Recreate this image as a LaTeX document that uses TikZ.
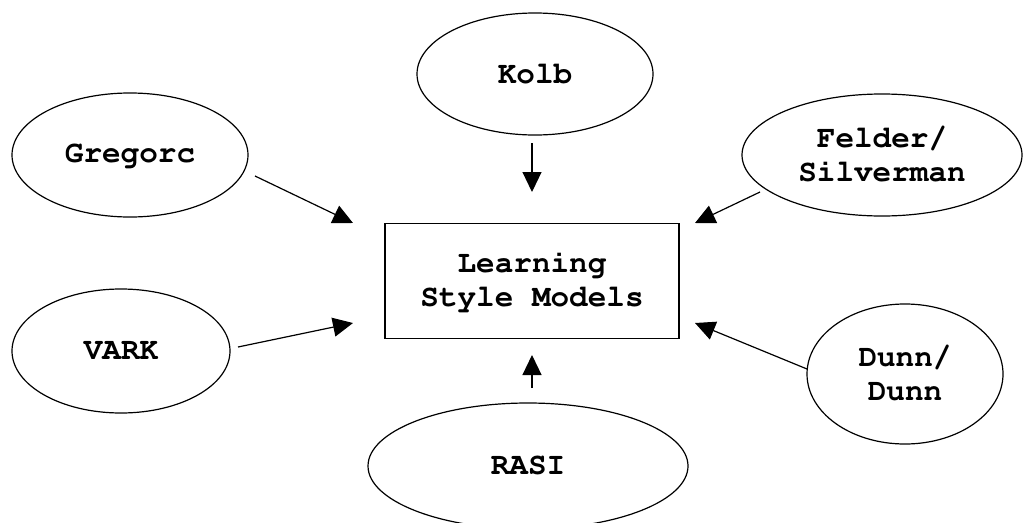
\documentclass[tikz,border=0pt]{standalone}
\usepackage[T1]{fontenc}
\usepackage{courier}
\usetikzlibrary{shapes.geometric,arrows.meta}
\tikzset{
  model/.style={draw, ellipse, line width=1.2pt, inner sep=0pt, align=center,
    font=\ttfamily\bfseries\fontsize{31}{34}\selectfont},
  centerbox/.style={draw, rectangle, line width=1.2pt, inner sep=0pt, align=center,
    minimum width=294pt, minimum height=115pt,
    font=\ttfamily\bfseries\fontsize{31}{34}\selectfont},
  feed/.style={line width=1.2pt, -{Triangle[length=20pt,width=19pt]}}
}
\begin{document}
\begin{tikzpicture}[x=1pt,y=-1pt]
\useasboundingbox (0,0) rectangle (1024,522);
\node[centerbox] (lsm) at (532,281) {Learning\\Style Models};
\node[model, minimum width=236pt, minimum height=122pt] (kolb) at (535,74) {Kolb};
\node[model, minimum width=236pt, minimum height=124pt] (greg) at (130,155) {Gregorc};
\node[model, minimum width=280pt, minimum height=122pt] (fel) at (882,155) {Felder/\\Silverman};
\node[model, minimum width=218pt, minimum height=124pt] (vark) at (121,351) {VARK};
\node[model, minimum width=196pt, minimum height=140pt] (dunn) at (905,374) {Dunn/\\Dunn};
\node[model, minimum width=320pt, minimum height=126pt] (rasi) at (528,466) {RASI};
\coordinate (gregS) at (255,176);
\coordinate (gregT) at (353,223);
\coordinate (kolbS) at (532,143);
\coordinate (kolbT) at (532,192);
\coordinate (felS) at (760,192);
\coordinate (felT) at (695,223);
\coordinate (varkS) at (238,347);
\coordinate (varkT) at (353,323);
\coordinate (rasiS) at (532,388);
\coordinate (rasiT) at (532,355);
\coordinate (dunnS) at (807,369);
\coordinate (dunnT) at (695,323);
\draw[feed] (gregS) -- (gregT);
\draw[feed] (kolbS) -- (kolbT);
\draw[feed] (felS) -- (felT);
\draw[feed] (varkS) -- (varkT);
\draw[feed] (rasiS) -- (rasiT);
\draw[feed] (dunnS) -- (dunnT);
\end{tikzpicture}
\end{document}
